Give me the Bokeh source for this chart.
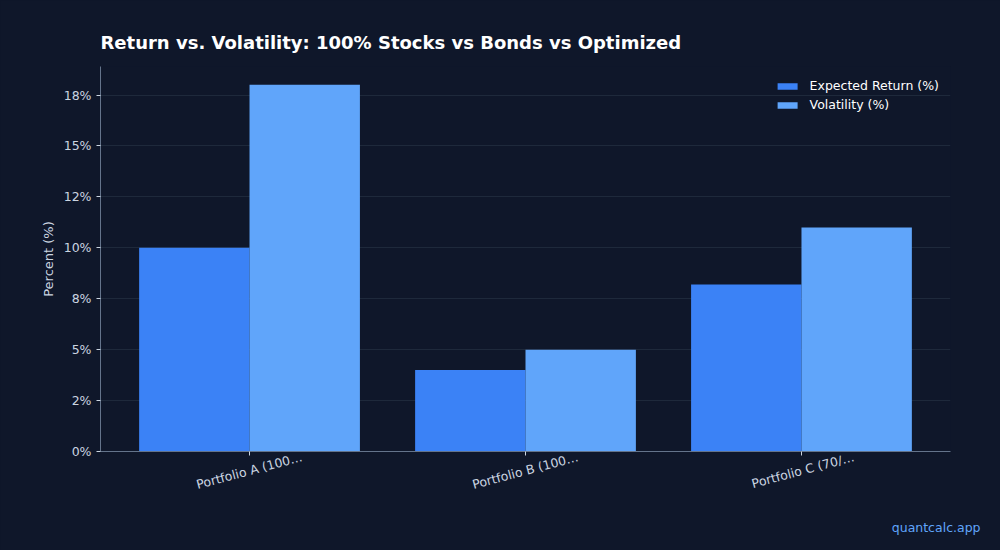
from bokeh.plotting import figure
from bokeh.models import (ColumnDataSource, Range1d, FixedTicker, Legend, LegendItem,
                          LinearAxis, Title)
from bokeh.transform import dodge
from bokeh.embed import file_html
from bokeh.resources import INLINE
import math

# data
portfolios = ["Portfolio A (100…", "Portfolio B (100…", "Portfolio C (70/…"]
expected_return = [10.0, 4.0, 8.2]
volatility = [18.0, 5.0, 11.0]
y_ticks = [0, 2.5, 5, 7.5, 10, 12.5, 15, 17.5]
y_tick_labels = ["0%", "2%", "5%", "8%", "10%", "12%", "15%", "18%"]

BG = "#0f172a"
FONT = "DejaVu Sans"
TXT = "#cbd5e1"

src = ColumnDataSource(data=dict(x=list(range(len(portfolios))), ret=expected_return, vol=volatility))

x0 = -0.54
x1 = len(portfolios) - 1 + 0.54
p = figure(width=1000, height=550, output_backend="svg", toolbar_location=None,
           x_range=Range1d(x0, x1), y_range=Range1d(0, 18.9),
           min_border_left=100, min_border_right=50, min_border_top=66, min_border_bottom=99)

p.background_fill_color = BG
p.border_fill_color = BG
p.outline_line_color = None

p.title.text = "Return vs. Volatility: 100% Stocks vs Bonds vs Optimized"
p.title.text_font = FONT
p.title.text_font_size = "18px"
p.title.text_color = "white"
p.title.align = "left"
p.title.standoff = 27

r1 = p.vbar(x=dodge("x", -0.2), top="ret", width=0.4, source=src, color="#3b82f6", line_color=None)
r2 = p.vbar(x=dodge("x", 0.2), top="vol", width=0.4, source=src, color="#60a5fa", line_color=None)

# axes (the main x axis only draws the tick marks)
p.xaxis.ticker = FixedTicker(ticks=list(range(len(portfolios))))
p.xaxis.major_label_overrides = {i: "" for i in range(len(portfolios))}
p.xaxis.major_label_standoff = 0
p.yaxis.ticker = FixedTicker(ticks=y_ticks)
p.yaxis.major_label_overrides = dict(zip(y_ticks, y_tick_labels))
p.yaxis.major_label_text_font_size = "12.5px"
p.yaxis.axis_label = "Percent (%)"

# rotated category labels, centred under the ticks (shifted range so the
# right-anchored rotated text sits centred on each tick)
shift = 0.19
p.extra_x_ranges = {"lab": Range1d(x0 - shift, x1 - shift)}
lab_axis = LinearAxis(x_range_name="lab", ticker=FixedTicker(ticks=list(range(len(portfolios)))))
lab_axis.major_label_overrides = {i: lab for i, lab in enumerate(portfolios)}
lab_axis.major_label_orientation = math.radians(15)
lab_axis.major_label_text_font_size = "12.5px"
lab_axis.axis_line_color = None
lab_axis.major_tick_line_color = None
lab_axis.major_tick_out = 0
lab_axis.major_label_standoff = 1
p.add_layout(lab_axis, "below")

for ax in (p.xaxis[0], p.yaxis[0], lab_axis):
    if ax is not lab_axis:
        ax.axis_line_color = "#64748b"
        ax.major_tick_line_color = TXT
        ax.major_tick_in = 0
        ax.major_tick_out = 4
    ax.minor_tick_line_color = None
    ax.major_label_text_color = TXT
    ax.major_label_text_font = FONT
    ax.axis_label_text_color = TXT
    ax.axis_label_text_font = FONT
    ax.axis_label_text_font_size = "13px"
    ax.axis_label_text_font_style = "normal"

p.xgrid.grid_line_color = None
p.ygrid.grid_line_color = "#1e293b"
p.ygrid.grid_line_width = 1

legend = Legend(items=[LegendItem(label="Expected Return (%)", renderers=[r1]),
                       LegendItem(label="Volatility (%)", renderers=[r2])],
                location="top_right")
legend.background_fill_alpha = 0
legend.border_line_color = None
legend.label_text_color = "white"
legend.label_text_font = FONT
legend.label_text_font_size = "12.5px"
legend.glyph_width = 25
legend.glyph_height = 8
legend.label_height = 17
legend.label_standoff = 10
legend.spacing = 2
legend.margin = 11
p.add_layout(legend)

# watermark
wm = Title(text="quantcalc.app", align="right", offset=-30, text_color="#60a5fa",
           text_font=FONT, text_font_size="12.5px", text_font_style="normal", standoff=31)
p.add_layout(wm, "below")

html = file_html(p, INLINE)
html = html.replace("<body>", '<body style="background:%s">' % BG)
open("out.html", "w").write(html)
